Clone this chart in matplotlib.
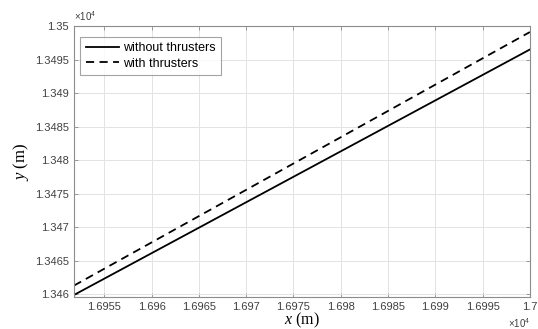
import matplotlib
matplotlib.use("Agg")
from matplotlib import pyplot as plt
from matplotlib.ticker import FuncFormatter

# trajectory end points (m)
x_pts = [16951.8, 17000.0]
y_without = [13459.9, 13496.5]
y_with = [13461.3, 13499.1]

xticks = [16955, 16960, 16965, 16970, 16975, 16980, 16985, 16990, 16995, 17000]
yticks = [13460, 13465, 13470, 13475, 13480, 13485, 13490, 13495, 13500]

plt.rcParams['font.family'] = ['Liberation Sans', 'DejaVu Sans']
plt.rcParams['mathtext.fontset'] = 'custom'
plt.rcParams['mathtext.it'] = 'Liberation Serif:italic'
plt.rcParams['mathtext.rm'] = 'Liberation Sans'

fig = plt.figure(figsize=(5.38, 3.29), dpi=100)
ax = fig.add_axes([0.1375, 0.0973, 0.8475, 0.8237])

ax.plot(x_pts, y_without, color='black', lw=1.3, label='without thrusters')
ax.plot(x_pts, y_with, color='black', lw=1.3, ls=(0, (4.5, 3)), label='with thrusters')

ax.set_xlim(16951.8, 17000)
ax.set_ylim(13459.6, 13500)
ax.set_xticks(xticks)
ax.set_yticks(yticks)
fmt = FuncFormatter(lambda v, p: ('%.5f' % (v / 1e4)).rstrip('0').rstrip('.'))
ax.xaxis.set_major_formatter(fmt)
ax.yaxis.set_major_formatter(fmt)

ax.grid(True, color='#e3e3e3', lw=0.7)
ax.set_axisbelow(True)
for s in ax.spines.values():
    s.set_color('#8c8c8c')
    s.set_linewidth(0.8)
ax.tick_params(direction='in', top=True, right=True, length=3, width=0.6,
               colors='#8c8c8c', labelcolor='#404040', labelsize=8)

ax.set_xlabel('$x$ (m)', family='Liberation Serif', fontsize=11.5, labelpad=-0.5)
ax.set_ylabel('$y$ (m)', family='Liberation Serif', fontsize=12, labelpad=3)

ax.text(0.0, 1.01, r'$\times10^4$', transform=ax.transAxes, fontsize=7,
        color='#404040', ha='left', va='bottom')
ax.text(1.0, -0.075, r'$\times10^4$', transform=ax.transAxes, fontsize=7,
        color='#404040', ha='right', va='top')

leg = ax.legend(loc='upper left', fontsize=9, frameon=True, fancybox=False,
                handlelength=2.7, handletextpad=0.3, borderpad=0.45,
                labelspacing=0.25, borderaxespad=0,
                bbox_to_anchor=(0.013, 0.96))
leg.get_frame().set_edgecolor('#8c8c8c')
leg.get_frame().set_linewidth(0.8)

fig.savefig('out.png', dpi=100)
